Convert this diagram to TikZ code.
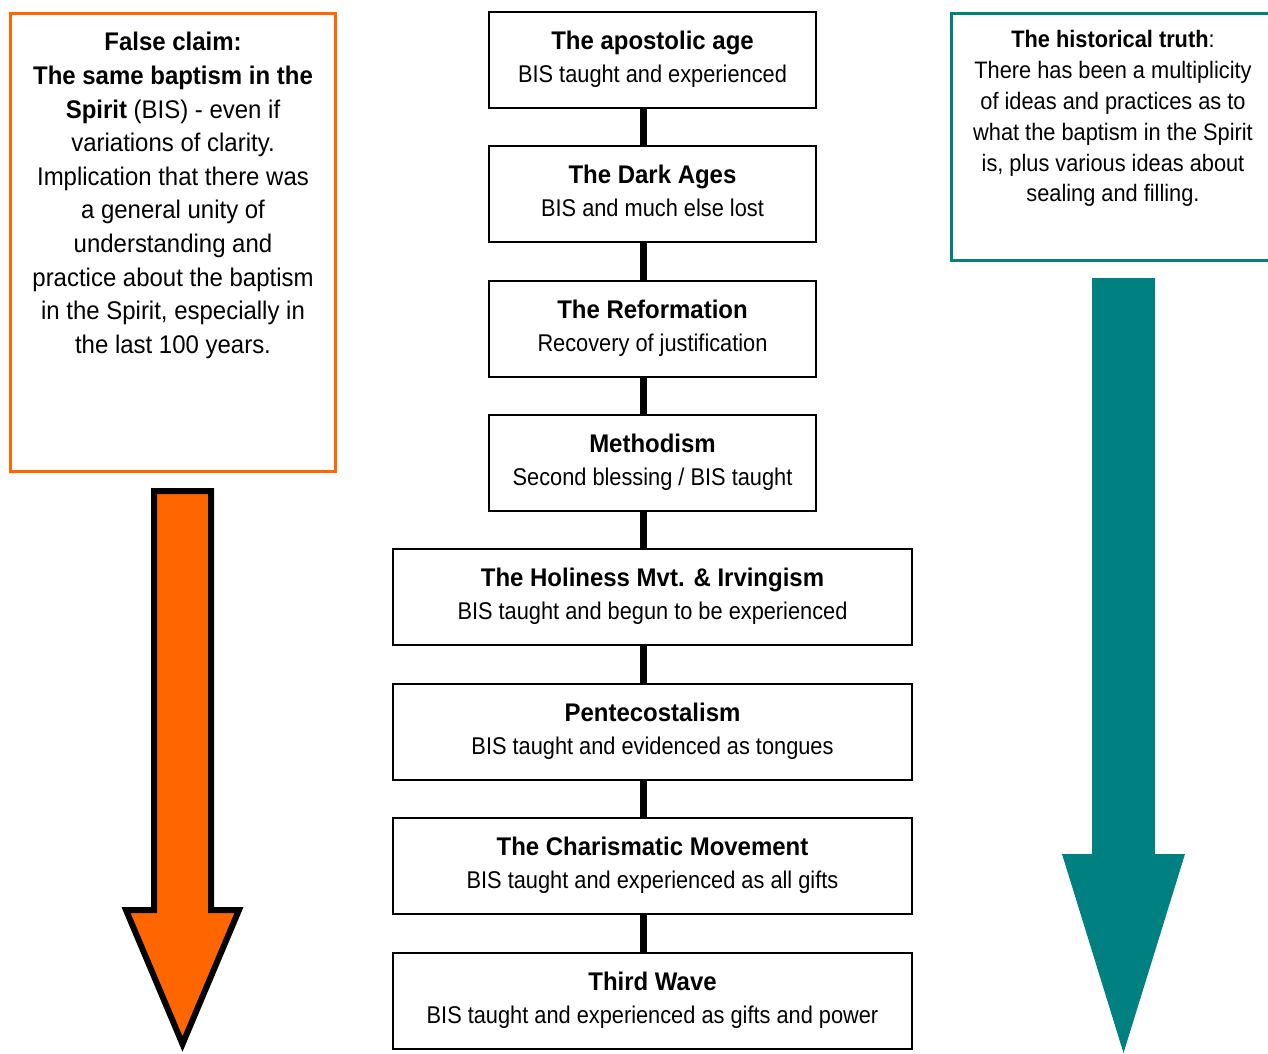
\documentclass[tikz,border=0pt]{standalone}
\usepackage{fontspec}
\setmainfont{Liberation Sans}[FakeStretch=0.94]
\newfontfamily\subfont{Liberation Sans}[FakeStretch=0.90]
\newfontfamily\rightfont{Liberation Sans}[FakeStretch=0.915]
\definecolor{orangeA}{HTML}{FF6600}
\definecolor{tealA}{HTML}{008080}
\begin{document}
\begin{tikzpicture}[x=1pt,y=-1pt,
  cbox/.style={draw, line width=1.5pt, inner sep=0pt, minimum height=96pt},
  narrowbox/.style={cbox, minimum width=327pt},
  widebox/.style={cbox, minimum width=519pt},
  ttl/.style={anchor=base, inner sep=0pt, font=\fontsize{25.5}{30}\selectfont\bfseries},
  sub/.style={anchor=base, inner sep=0pt, font=\subfont\fontsize{24.2}{28}\selectfont},
  conn/.style={line width=7pt},
  sidetext/.style={align=center, anchor=north, inner sep=0pt}
]
\useasboundingbox (0,0) rectangle (1268,1053);

% left box
\node[draw=orangeA, line width=3pt, minimum width=325pt, minimum height=458pt, inner sep=0pt] (lbox) at (173,242.5) {};
\node[sidetext, font=\fontsize{25.5}{33.6}\selectfont] (ltext) at (173,32.3) {%
{\bfseries False claim:}\\
{\bfseries The same baptism in the}\\
{\bfseries Spirit} (BIS) - even if\\
variations of clarity.\\
Implication that there was\\
a general unity of\\
understanding and\\
practice about the baptism\\
in the Spirit, especially in\\
the last 100 years.};

% right box
\node[draw=tealA, line width=3pt, minimum width=340pt, minimum height=247pt, inner sep=0pt] (rbox) at (1121.5,137) {};
\node[sidetext, font=\rightfont\fontsize{23.8}{30.8}\selectfont] (rtext) at (1113,30.5) {%
{\bfseries The historical truth}:\\
There has been a multiplicity\\
of ideas and practices as to\\
what the baptism in the Spirit\\
is, plus various ideas about\\
sealing and filling.};

% arrows
\draw[line width=6pt, fill=orangeA, line join=miter, miter limit=10] (154,491) -- (211,491) -- (211,910) -- (239,910) -- (182.5,1044) -- (126,910) -- (154,910) -- cycle;
\fill[tealA] (1092,278) -- (1155,278) -- (1155,854) -- (1185,854) -- (1123.5,1053) -- (1062,854) -- (1092,854) -- cycle;

% centre column
\node[narrowbox] (b1) at (652.5,60) {};
\node[ttl] (t1) at (652.5,49) {The apostolic age};
\node[sub] (s1) at (652.5,82) {BIS taught and experienced};

\node[narrowbox] (b2) at (652.5,194) {};
\node[ttl] (t2) at (652.5,183) {The Dark Ages};
\node[sub] (s2) at (652.5,216) {BIS and much else lost};

\node[narrowbox] (b3) at (652.5,329) {};
\node[ttl] (t3) at (652.5,318) {The Reformation};
\node[sub] (s3) at (652.5,351) {Recovery of justification};

\node[narrowbox] (b4) at (652.5,463) {};
\node[ttl] (t4) at (652.5,452) {Methodism};
\node[sub] (s4) at (652.5,485) {Second blessing / BIS taught};

\node[widebox] (b5) at (652.5,597) {};
\node[ttl] (t5) at (652.5,586) {The Holiness Mvt. \& Irvingism};
\node[sub] (s5) at (652.5,619) {BIS taught and begun to be experienced};

\node[widebox] (b6) at (652.5,732) {};
\node[ttl] (t6) at (652.5,721) {Pentecostalism};
\node[sub] (s6) at (652.5,754) {BIS taught and evidenced as tongues};

\node[widebox] (b7) at (652.5,866) {};
\node[ttl] (t7) at (652.5,855) {The Charismatic Movement};
\node[sub] (s7) at (652.5,888) {BIS taught and experienced as all gifts};

\node[widebox] (b8) at (652.5,1001) {};
\node[ttl] (t8) at (652.5,990) {Third Wave};
\node[sub] (s8) at (652.5,1023) {BIS taught and experienced as gifts and power};

\foreach \a/\b in {b1/b2,b2/b3,b3/b4,b4/b5,b5/b6,b6/b7,b7/b8}
  \draw[conn] ([xshift=-9.5pt]\a.south) -- ([xshift=-9.5pt]\b.north);
\end{tikzpicture}
\end{document}
